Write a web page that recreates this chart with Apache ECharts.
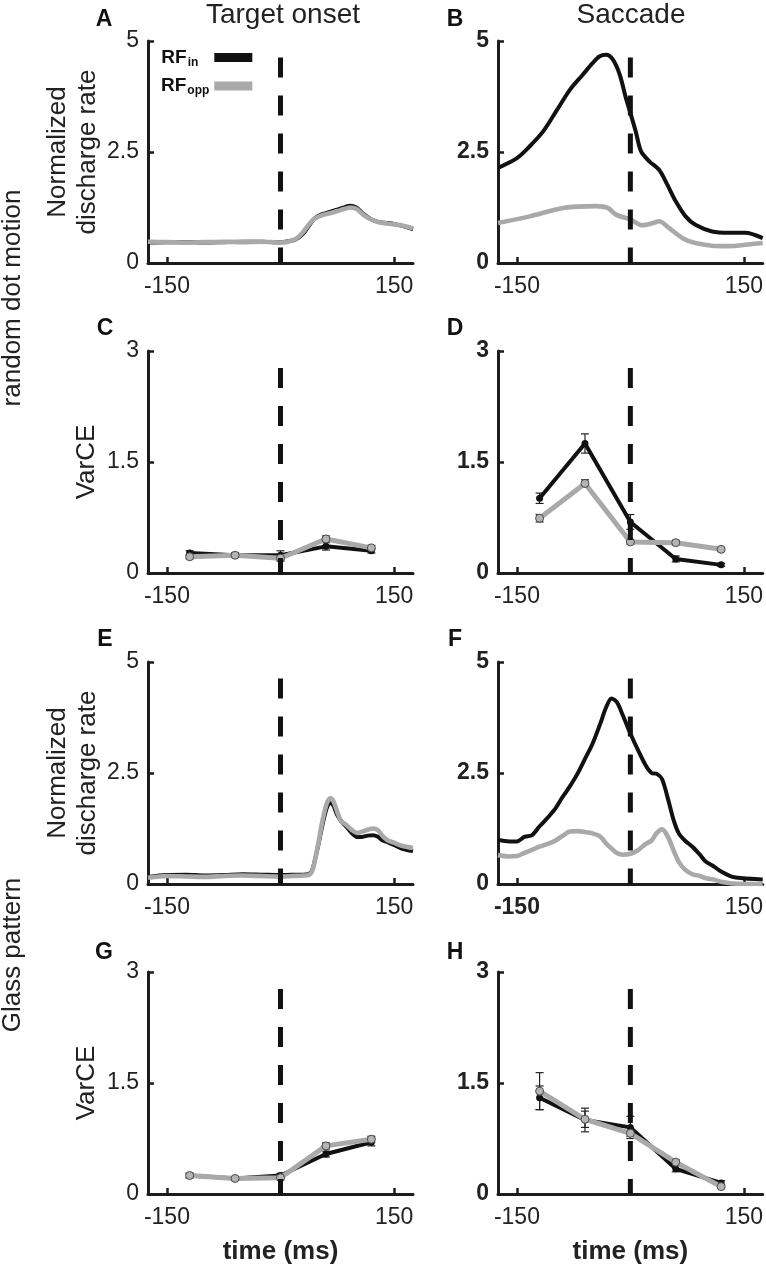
<!DOCTYPE html>
<html><head><meta charset="utf-8">
<script src="https://cdn.jsdelivr.net/npm/echarts@6/dist/echarts.min.js"></script>
<style>html,body{margin:0;padding:0;background:#fff}#c{width:766px;height:1271px}</style>
</head><body><div id="c"></div>
<script>
// ---------------- DATA ----------------
// Panel A: random dot motion, aligned on target onset (normalized discharge rate)
const aT   = [-175,-150,-125,-100,-75,-50,-25,0,10,20,30,38,45,55,65,75,85,92,100,110,120,130,140,150,162,175];
const aIn  = [0.46,0.47,0.47,0.46,0.47,0.48,0.48,0.47,0.49,0.53,0.66,0.85,1.00,1.10,1.15,1.20,1.26,1.29,1.25,1.10,0.98,0.92,0.90,0.88,0.83,0.76];
const aOpp = [0.48,0.47,0.46,0.47,0.48,0.47,0.48,0.46,0.48,0.54,0.70,0.88,1.00,1.08,1.12,1.17,1.22,1.25,1.22,1.08,0.98,0.92,0.89,0.87,0.84,0.78];
// Panel B: random dot motion, aligned on saccade
const bT   = [-175,-150,-133,-115,-98,-80,-63,-50,-41,-32,-23,-14,-6,0,7,14,25,38,49,60,73,86,108,130,152,175];
const bIn  = [2.14,2.36,2.63,2.97,3.42,3.90,4.24,4.50,4.65,4.69,4.58,4.24,3.72,3.38,2.97,2.52,2.29,2.10,1.76,1.39,1.05,0.86,0.71,0.68,0.68,0.56];
const bOppT= [-175,-133,-89,-45,-30,-19,0,16,30,38,51,69,86,108,130,152,175];
const bOpp = [0.90,1.05,1.24,1.28,1.24,1.09,0.98,0.85,0.90,0.94,0.79,0.56,0.45,0.39,0.38,0.41,0.45];
// Panel E: Glass pattern, aligned on target onset
const eT   = [-175,-150,-125,-100,-75,-50,-25,0,15,30,37,42,46,50,54,58,62,66,70,75,80,87,94,101,108,115,122,128,135,142,150,160,175];
const eIn  = [0.16,0.20,0.21,0.19,0.20,0.22,0.21,0.20,0.21,0.21,0.22,0.32,0.58,0.88,1.22,1.52,1.75,1.84,1.76,1.55,1.42,1.29,1.15,1.06,1.06,1.09,1.10,1.07,0.98,0.94,0.88,0.80,0.74];
const eOpp = [0.14,0.18,0.17,0.16,0.18,0.19,0.18,0.17,0.18,0.19,0.20,0.30,0.58,0.92,1.30,1.62,1.85,1.93,1.86,1.62,1.42,1.33,1.22,1.15,1.18,1.22,1.25,1.22,1.08,0.98,0.93,0.86,0.81];
// Panel F: Glass pattern, aligned on saccade
const fT   = [-175,-160,-150,-140,-130,-120,-110,-100,-90,-80,-70,-60,-50,-40,-32,-25,-18,-10,0,10,20,28,35,42,50,57,64,72,82,92,100,110,120,135,150,165,175];
const fIn  = [0.99,0.96,0.96,1.06,1.10,1.30,1.48,1.68,1.95,2.20,2.48,2.82,3.16,3.60,3.98,4.18,4.10,3.80,3.39,3.02,2.68,2.50,2.48,2.36,1.90,1.45,1.14,0.98,0.84,0.66,0.50,0.40,0.28,0.16,0.13,0.11,0.10];
const fOpp = [0.65,0.62,0.63,0.70,0.77,0.84,0.90,0.97,1.08,1.18,1.19,1.17,1.14,1.07,0.91,0.80,0.70,0.66,0.68,0.76,0.90,0.98,1.15,1.23,1.05,0.76,0.50,0.33,0.22,0.18,0.13,0.10,0.05,0.01,0.00,0.00,0.00];
// VarCE panels (time bins)
const varT    = [-120,-60,0,60,120];
const cIn     = [0.27,0.24,0.24,0.36,0.30], cInErr  = [0.03,0.03,0.06,0.05,0.03];
const cOpp    = [0.22,0.24,0.20,0.46,0.34], cOppErr = [0.03,0.03,0.04,0.04,0.03];
const dIn     = [1.01,1.75,0.69,0.19,0.11], dInErr  = [0.07,0.13,0.10,0.04,0.02];
const dOpp    = [0.74,1.21,0.42,0.41,0.32], dOppErr = [0.05,0.05,0.03,0.03,0.02];
const gIn     = [0.25,0.21,0.25,0.54,0.70], gInErr  = [0.03,0.02,0.03,0.04,0.05];
const gOpp    = [0.25,0.21,0.22,0.65,0.74], gOppErr = [0.03,0.02,0.03,0.04,0.04];
const hIn     = [1.30,1.00,0.90,0.34,0.15], hInErr  = [0.16,0.16,0.15,0.04,0.03];
const hOpp    = [1.39,1.01,0.82,0.43,0.10], hOppErr = [0.25,0.11,0.04,0.03,0.02];
// Ticks / labels
const xTicks = [-150, 150];
const rateTicks = {min: 0, max: 5, interval: 2.5};
const varTicks  = {min: 0, max: 3, interval: 1.5};
const colTitles = ['Target onset', 'Saccade'];
const rowLabels = ['random dot motion', 'Glass pattern'];
const panelLetters = ['A','B','C','D','E','F','G','H'];

// ---------------- STYLE ----------------
const FONT = '"Liberation Sans", Arial, Helvetica, sans-serif';
const BLACK = '#111111', GRAY = '#a9a9a9', AXIS = '#1c1c1c', TEXT = '#222222';
const colLeft = [148, 498], rowTop = [41, 351, 662, 972], GW = 265, GH = 222;

const zip = (t, v) => t.map((x, i) => [x, v[i]]);
const errs = (t, v, e) => t.map((x, i) => [x, v[i] - e[i], v[i] + e[i]]);

const grids = [], xAxes = [], yAxes = [], series = [];
for (let g = 0; g < 8; g++) {
  const row = Math.floor(g / 2), col = g % 2;
  const isRate = row % 2 === 0;
  grids.push({left: colLeft[col], top: rowTop[row], width: GW, height: GH});
  const xa = {
    gridIndex: g, type: 'value', min: -175, max: 175,
    axisLine: {onZero: false, lineStyle: {color: AXIS, width: 3}},
    axisTick: {show: true, inside: true, length: 6, customValues: xTicks, lineStyle: {color: AXIS, width: 2.5}},
    axisLabel: {customValues: xTicks, fontSize: 23, fontFamily: FONT, color: TEXT, margin: 12},
    splitLine: {show: false}
  };
  if (g === 5) {
    xa.axisLabel.formatter = v => v === -150 ? '{bb|-150}' : String(v);
    xa.axisLabel.rich = {bb: {fontWeight: 'bold', fontSize: 23, fontFamily: FONT, color: TEXT}};
  }
  if (row === 3) {
    xa.name = 'time (ms)'; xa.nameLocation = 'middle'; xa.nameGap = 45;
    xa.nameTextStyle = {fontSize: 26, fontWeight: 'bold', fontFamily: FONT, color: TEXT};
  }
  xAxes.push(xa);
  const tk = isRate ? rateTicks : varTicks;
  const ya = {
    gridIndex: g, type: 'value', min: tk.min, max: tk.max, interval: tk.interval,
    axisLine: {show: true, onZero: false, lineStyle: {color: AXIS, width: 3}},
    axisTick: {show: true, inside: true, length: 6, lineStyle: {color: AXIS, width: 2.5}},
    axisLabel: {fontSize: 23, fontFamily: FONT, color: TEXT, margin: 9, fontWeight: col === 1 ? 'bold' : 'normal'},
    splitLine: {show: false}
  };
  if (col === 0) {
    ya.name = isRate ? 'Normalized\ndischarge rate' : 'VarCE';
    ya.nameLocation = 'middle'; ya.nameGap = isRate ? 45 : 46;
    ya.nameTextStyle = {fontSize: 26, fontFamily: FONT, color: TEXT, lineHeight: 30};
  }
  yAxes.push(ya);
}

function curve(g, name, t, v) {
  const isIn = name === 'RFin';
  series.push({
    type: 'line', name, xAxisIndex: g, yAxisIndex: g, data: zip(t, v),
    symbol: 'none', showSymbol: false, smooth: 0.3, z: isIn ? 2 : 3, silent: true,
    lineStyle: {color: isIn ? BLACK : GRAY, width: isIn ? 4 : 4.6},
    itemStyle: {color: isIn ? BLACK : GRAY}
  });
}
function errRender(params, api) {
  const x = api.value(0);
  const lo = api.coord([x, api.value(1)]), hi = api.coord([x, api.value(2)]);
  const w = 4, st = {stroke: '#222', lineWidth: 1.2};
  return {type: 'group', children: [
    {type: 'line', shape: {x1: lo[0], y1: lo[1], x2: hi[0], y2: hi[1]}, style: st},
    {type: 'line', shape: {x1: lo[0] - w, y1: lo[1], x2: lo[0] + w, y2: lo[1]}, style: st},
    {type: 'line', shape: {x1: hi[0] - w, y1: hi[1], x2: hi[0] + w, y2: hi[1]}, style: st}
  ]};
}
function varce(g, vin, ein, vopp, eopp) {
  series.push({type: 'custom', name: 'errIn', xAxisIndex: g, yAxisIndex: g, data: errs(varT, vin, ein), renderItem: errRender, z: 1, silent: true});
  series.push({type: 'custom', name: 'errOpp', xAxisIndex: g, yAxisIndex: g, data: errs(varT, vopp, eopp), renderItem: errRender, z: 1, silent: true});
  series.push({type: 'line', name: 'RFin', xAxisIndex: g, yAxisIndex: g, data: zip(varT, vin), z: 2, silent: true,
    symbol: 'circle', symbolSize: 7, showSymbol: true,
    lineStyle: {color: BLACK, width: 4}, itemStyle: {color: BLACK}});
  series.push({type: 'line', name: 'RFopp', xAxisIndex: g, yAxisIndex: g, data: zip(varT, vopp), z: 3, silent: true,
    symbol: 'circle', symbolSize: 8, showSymbol: true,
    lineStyle: {color: GRAY, width: 5}, itemStyle: {color: '#b4b4b4', borderColor: '#4a4a4a', borderWidth: 1}});
}
curve(0, 'RFin', aT, aIn);  curve(0, 'RFopp', aT, aOpp);
curve(1, 'RFin', bT, bIn);  curve(1, 'RFopp', bOppT, bOpp);
curve(4, 'RFin', eT, eIn);  curve(4, 'RFopp', eT, eOpp);
curve(5, 'RFin', fT, fIn);  curve(5, 'RFopp', fT, fOpp);
varce(2, cIn, cInErr, cOpp, cOppErr);
varce(3, dIn, dInErr, dOpp, dOppErr);
varce(6, gIn, gInErr, gOpp, gOppErr);
varce(7, hIn, hInErr, hOpp, hOppErr);
// event line at t = 0
for (let g = 0; g < 8; g++) {
  const top = Math.floor(g / 2) % 2 === 0 ? 4.63 : 2.77;
  series.push({type: 'line', name: 'event', xAxisIndex: g, yAxisIndex: g, data: [[0, top], [0, 0]],
    symbol: 'none', silent: true, z: 5, lineStyle: {color: BLACK, width: 5, type: [20, 18]}});
}

const graphic = [];
const letterPos = [[104,20],[455,20],[105,329],[455,329],[105,640],[455,640],[104,953],[455,953]];
panelLetters.forEach((L, i) => graphic.push({type: 'text', x: letterPos[i][0], y: letterPos[i][1],
  style: {text: L, font: 'bold 23px ' + FONT, fill: BLACK, textAlign: 'center', textVerticalAlign: 'middle'}}));
graphic.push({type: 'text', x: 283, y: 15, style: {text: colTitles[0], font: '28px ' + FONT, fill: TEXT, textAlign: 'center', textVerticalAlign: 'middle'}});
graphic.push({type: 'text', x: 631, y: 15, style: {text: colTitles[1], font: '28px ' + FONT, fill: TEXT, textAlign: 'center', textVerticalAlign: 'middle'}});
graphic.push({type: 'text', x: 13, y: 298, rotation: Math.PI / 2, style: {text: rowLabels[0], font: '26px ' + FONT, fill: TEXT, textAlign: 'center', textVerticalAlign: 'middle'}});
graphic.push({type: 'text', x: 13, y: 955, rotation: Math.PI / 2, style: {text: rowLabels[1], font: '26px ' + FONT, fill: TEXT, textAlign: 'center', textVerticalAlign: 'middle'}});

const chart = echarts.init(document.getElementById('c'), null, {renderer: 'canvas'});
chart.setOption({
  animation: false,
  backgroundColor: '#ffffff',
  grid: grids, xAxis: xAxes, yAxis: yAxes, series, graphic,
  legend: {
    left: 161, top: 48, orient: 'vertical', align: 'right', icon: 'rect', padding: 0,
    itemWidth: 38, itemHeight: 9, itemGap: 8, selectedMode: false,
    data: [{name: 'RFin', itemStyle: {color: BLACK}}, {name: 'RFopp', itemStyle: {color: GRAY}}],
    formatter: n => n === 'RFin' ? '{b|RF}{si|in}' : '{b|RF}{so|opp}',
    textStyle: {fontFamily: FONT, color: BLACK,
      rich: {b: {fontSize: 19, fontWeight: 'bold', fontFamily: FONT, color: BLACK},
             si: {fontSize: 12, fontWeight: 'bold', fontFamily: FONT, color: BLACK, padding: [10, 11, 0, 1]},
             so: {fontSize: 12, fontWeight: 'bold', fontFamily: FONT, color: BLACK, padding: [10, 0, 0, 1]}}}
  }
});
</script></body></html>
